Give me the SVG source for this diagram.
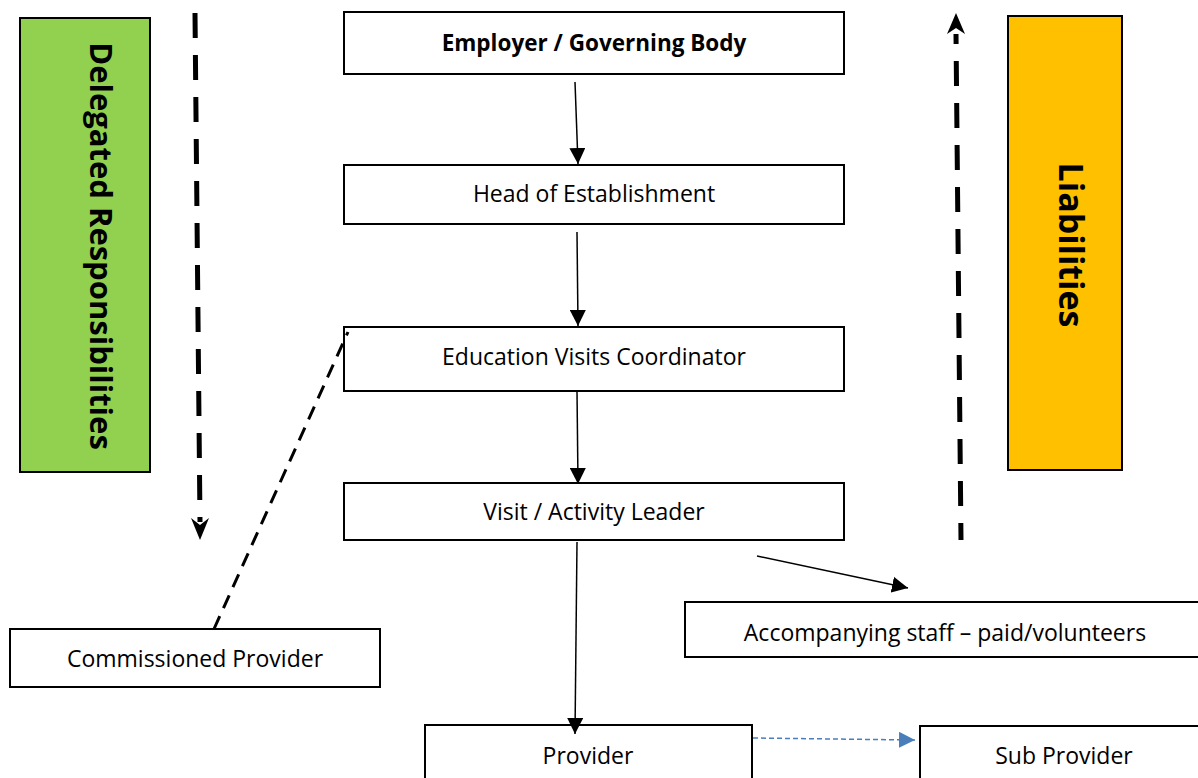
<svg xmlns="http://www.w3.org/2000/svg" width="1198" height="778" viewBox="0 0 1198 778">
<defs>
<style>
.box{fill:#fff;stroke:#000;stroke-width:2}
.t{font-family:"Open Sans","Noto Sans",sans-serif;font-size:23px;fill:#000;text-anchor:middle;dominant-baseline:central}
.b{font-weight:bold;font-size:22.5px}
.v{font-family:"Open Sans","Noto Sans",sans-serif;font-size:31px;font-weight:bold;fill:#000;text-anchor:middle;dominant-baseline:central}
.c{stroke:#000;stroke-width:1.5;fill:none}
.thick{stroke:#000;stroke-width:5;fill:none;stroke-dasharray:25 17}
</style>
<marker id="ahL" viewBox="0 0 10 10" refX="10" refY="5" markerWidth="16" markerHeight="16" markerUnits="userSpaceOnUse" orient="auto"><path d="M0,0 L10,5 L0,10 z" fill="#000"/></marker>
<marker id="ahB" viewBox="0 0 10 10" refX="10" refY="5" markerWidth="16" markerHeight="16" markerUnits="userSpaceOnUse" orient="auto"><path d="M0,0 L10,5 L0,10 z" fill="#4a7ebb"/></marker>
</defs>
<g id="delegated">
<rect x="20" y="18" width="130" height="454" fill="#92d050" stroke="#000" stroke-width="2"/>
<text class="v" transform="translate(102,246) rotate(90)">Delegated Responsibilities</text>
</g>
<g id="liabilities">
<rect x="1008" y="16" width="114" height="454" fill="#ffc000" stroke="#000" stroke-width="2"/>
<text class="v" style="font-size:34px" transform="translate(1072,245) rotate(90)">Liabilities</text>
</g>
<g id="employer"><rect class="box" x="344" y="12" width="500" height="62"/><text class="t b" x="594" y="42">Employer / Governing Body</text></g>
<g id="head"><rect class="box" x="344" y="165" width="500" height="59"/><text class="t" x="594" y="193">Head of Establishment</text></g>
<g id="evc"><rect class="box" x="344" y="327" width="500" height="64"/><text class="t" x="594" y="356">Education Visits Coordinator</text></g>
<g id="leader"><rect class="box" x="344" y="483" width="500" height="57"/><text class="t" x="594" y="511">Visit / Activity Leader</text></g>
<g id="accompanying"><rect class="box" x="685" y="602" width="520" height="55"/><text class="t" x="945" y="632">Accompanying staff – paid/volunteers</text></g>
<g id="commissioned"><rect class="box" x="10" y="629" width="370" height="58"/><text class="t" x="195" y="658">Commissioned Provider</text></g>
<g id="provider"><rect class="box" x="425" y="725" width="327" height="60"/><text class="t" x="588" y="755">Provider</text></g>
<g id="subprovider"><rect class="box" x="920" y="726" width="290" height="60"/><text class="t" x="1064" y="755">Sub Provider</text></g>
<g id="connectors">
<line class="thick" x1="195" y1="13" x2="200" y2="522"/>
<path d="M191,518 L200,540 L209,518 L200,525 z" fill="#000"/>
<line class="thick" x1="961" y1="540" x2="956" y2="34" style="stroke-dashoffset:8"/>
<path d="M947,34 L956,13 L965,34 L956,28 z" fill="#000"/>
<line class="c" x1="575" y1="82" x2="578" y2="164" marker-end="url(#ahL)"/>
<line class="c" x1="577" y1="232" x2="578" y2="326" marker-end="url(#ahL)"/>
<line class="c" x1="577" y1="391" x2="578" y2="484" marker-end="url(#ahL)"/>
<line class="c" x1="577" y1="542" x2="575" y2="734" marker-end="url(#ahL)"/>
<line class="c" x1="757" y1="556" x2="908" y2="588" marker-end="url(#ahL)"/>
<line x1="753" y1="738" x2="915" y2="740" stroke="#4a7ebb" stroke-width="1.5" stroke-dasharray="5 3" marker-end="url(#ahB)"/>
<line x1="214" y1="629" x2="348" y2="332" stroke="#000" stroke-width="3" stroke-dasharray="14 9"/>
</g>
</svg>
